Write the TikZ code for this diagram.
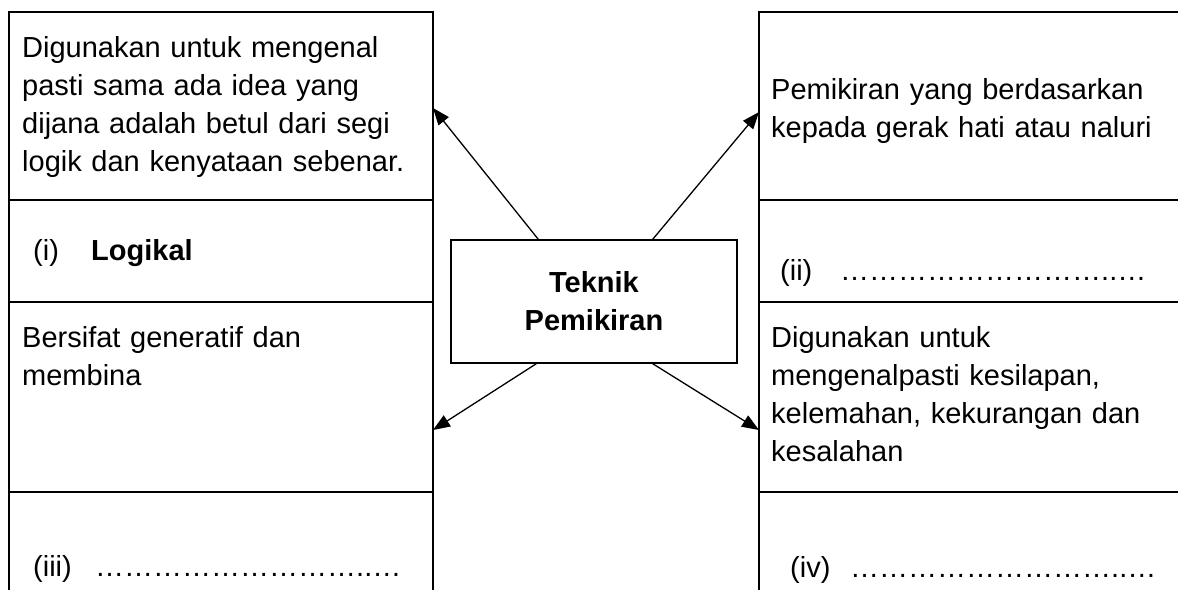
\documentclass[tikz,border=0pt]{standalone}
\usepackage{fontspec}
\setmainfont{Liberation Sans}
\usetikzlibrary{arrows.meta,positioning}
\tikzset{
  panel/.style={line width=1.6pt},
  isi/.style={inner sep=0pt, anchor=base west, text width=400pt, align=left,
    font=\fontsize{29}{38.3}\selectfont},
  label/.style={inner sep=0pt, anchor=base west, font=\fontsize{29}{34}\selectfont},
  pusat/.style={draw, line width=1.4pt, minimum width=286pt, minimum height=123pt,
    align=center, font=\fontsize{29}{38}\selectfont\bfseries},
  panah/.style={-{Triangle[length=17pt,width=13pt]}, line width=1.3pt}
}

\begin{document}
\begin{tikzpicture}[x=1pt,y=-1pt]
  \useasboundingbox (0,0) rectangle (1178,590);
  % panel kiri
  \draw[panel] (9,590) -- (9,12) -- (433,12) -- (433,590);
  \draw[panel] (9,200) -- (433,200) (9,302) -- (433,302) (9,492) -- (433,492);
  % panel kanan
  \draw[panel] (1178,12) -- (759,12) -- (759,590);
  \draw[panel] (759,200) -- (1178,200) (759,302) -- (1178,302) (759,492) -- (1178,492);

  \node[isi] (logik) at (22,57) {Digunakan untuk mengenal\\ pasti sama ada idea yang\\ dijana adalah betul dari segi\\ logik dan kenyataan sebenar.};
  \node[label] (no1) at (33,260) {(i)};
  \node[label, font=\fontsize{29}{34}\selectfont\bfseries] (jwp1) at (91,260) {Logikal};

  \node[isi] (gen) at (22,347) {Bersifat generatif dan\\ membina};
  \node[label] (no3) at (33,576) {(iii)};
  \node[label] (jwp3) at (95,576) {………………………..…};

  \node[isi] (naluri) at (771,99) {Pemikiran yang berdasarkan\\ kepada gerak hati atau naluri};
  \node[label] (no2) at (780,280) {(ii)};
  \node[label] (jwp2) at (840,280) {………………………..…};

  \node[isi] (kritis) at (771,347) {Digunakan untuk\\ mengenalpasti kesilapan,\\ kelemahan, kekurangan dan\\ kesalahan};
  \node[label] (no4) at (790,577) {(iv)};
  \node[label] (jwp4) at (850,577) {………………………..…};

  \node[pusat] (tp) at (594,301.5) {Teknik\\ Pemikiran};

  \coordinate (hujungA) at (433,108);
  \coordinate (hujungB) at (759,112);
  \coordinate (hujungC) at (433,430);
  \coordinate (hujungD) at (759,430);
  \draw[panah] ([xshift=88pt]tp.north west) -- (hujungA);
  \draw[panah] ([xshift=-85pt]tp.north east) -- (hujungB);
  \draw[panah] ([xshift=86pt]tp.south west) -- (hujungC);
  \draw[panah] ([xshift=-85pt]tp.south east) -- (hujungD);
\end{tikzpicture}
\end{document}
